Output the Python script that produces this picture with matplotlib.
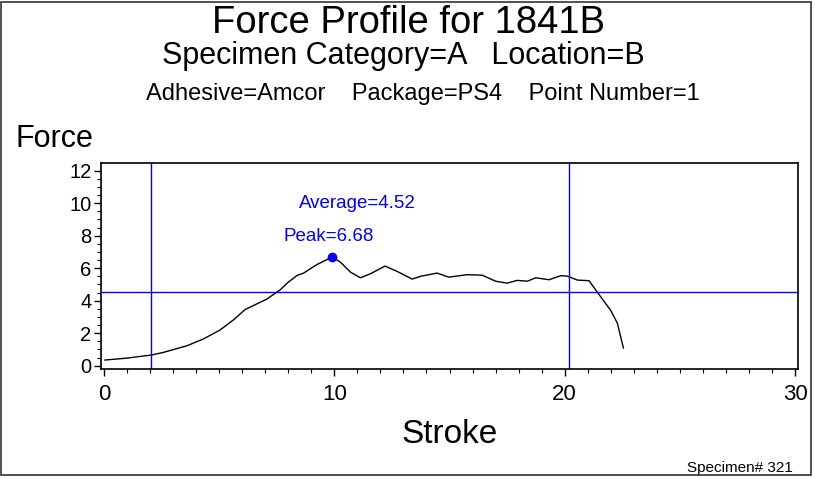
import matplotlib
matplotlib.use('Agg')
import matplotlib.pyplot as plt
from matplotlib.patches import Rectangle
from matplotlib.ticker import MultipleLocator

plt.rcParams['font.family'] = ['Liberation Sans', 'DejaVu Sans']

# Force curve
stroke = [0.04, 1.0, 2.06, 2.58, 3.6, 4.32, 5.04, 5.62, 6.13, 7.07, 7.65, 8.0,
          8.38, 8.67, 9.25, 9.9, 10.26, 10.7, 11.13, 11.57, 12.2, 12.7, 13.38,
          13.74, 14.46, 14.97, 15.77, 16.42, 17.0, 17.5, 17.94, 18.38, 18.74,
          19.32, 19.83, 20.12, 20.55, 21.06, 21.42, 22.0, 22.29, 22.55]
force = [0.35, 0.47, 0.66, 0.82, 1.23, 1.65, 2.2, 2.82, 3.46, 4.1, 4.67, 5.14,
         5.55, 5.7, 6.23, 6.68, 6.38, 5.76, 5.41, 5.66, 6.13, 5.82, 5.33,
         5.5, 5.7, 5.45, 5.6, 5.57, 5.2, 5.08, 5.25, 5.2, 5.41,
         5.29, 5.54, 5.51, 5.27, 5.23, 4.52, 3.4, 2.61, 1.09]

peak_x, peak_y = 9.9, 6.68
average = 4.52
window = [2.06, 20.2]

title = 'Force Profile for 1841B'
subtitle1 = 'Specimen Category=A   Location=B'
subtitle2 = 'Adhesive=Amcor    Package=PS4    Point Number=1'
footnote = 'Specimen# 321'

W, H = 815, 479
fig = plt.figure(figsize=(W / 100, H / 100), dpi=100)
ax = fig.add_axes([101 / W, 1 - 369 / H, 697 / W, 206 / H])

blue = '#0000ff'
ax.plot(stroke, force, color='black', lw=1)
ax.axhline(average, color=blue, lw=1)
for xv in window:
    ax.axvline(xv, color=blue, lw=1)
ax.plot([peak_x], [peak_y], 'o', color=blue, ms=6)
ax.text(peak_x - 0.15, 7.98, f'Peak={peak_y:.2f}', color=blue, fontsize=13.5,
        ha='center', va='center')
ax.text(11.0, 10.0, f'Average={average:.2f}', color=blue, fontsize=13.5,
        ha='center', va='center')

ax.set_xlim(-0.13, 30.13)
ax.set_ylim(-0.2, 12.47)
ax.xaxis.set_major_locator(MultipleLocator(10))
ax.xaxis.set_minor_locator(MultipleLocator(1))
ax.yaxis.set_major_locator(MultipleLocator(2))
ax.yaxis.set_minor_locator(MultipleLocator(0.5))
ax.tick_params(axis='x', which='major', length=5, width=1, labelsize=16, pad=6)
ax.tick_params(axis='y', which='major', length=5, width=1, labelsize=14.5, pad=2)
ax.tick_params(which='minor', length=3, width=0.8)
for s in ax.spines.values():
    s.set_linewidth(1.2)

fig.text(409 / W, 1 - 33 / H, title, fontsize=27.5, ha='center', va='baseline')
fig.text(403 / W, 1 - 64 / H, subtitle1, fontsize=22, ha='center', va='baseline')
fig.text(423 / W, 1 - 100 / H, subtitle2, fontsize=17, ha='center', va='baseline')
fig.text(16 / W, 1 - 147 / H, 'Force', fontsize=22, ha='left', va='baseline')
fig.text(450 / W, 1 - 443 / H, 'Stroke', fontsize=24, ha='center', va='baseline')
fig.text(793 / W, 1 - 472 / H, footnote, fontsize=11, ha='right', va='baseline')

# outer border of the graph area
fig.patches.append(Rectangle((1 / W, 1 - 475 / H), 810 / W, 473 / H,
                             transform=fig.transFigure, fill=False,
                             edgecolor='#333333', lw=1.2))

fig.savefig('out.png', dpi=100)
